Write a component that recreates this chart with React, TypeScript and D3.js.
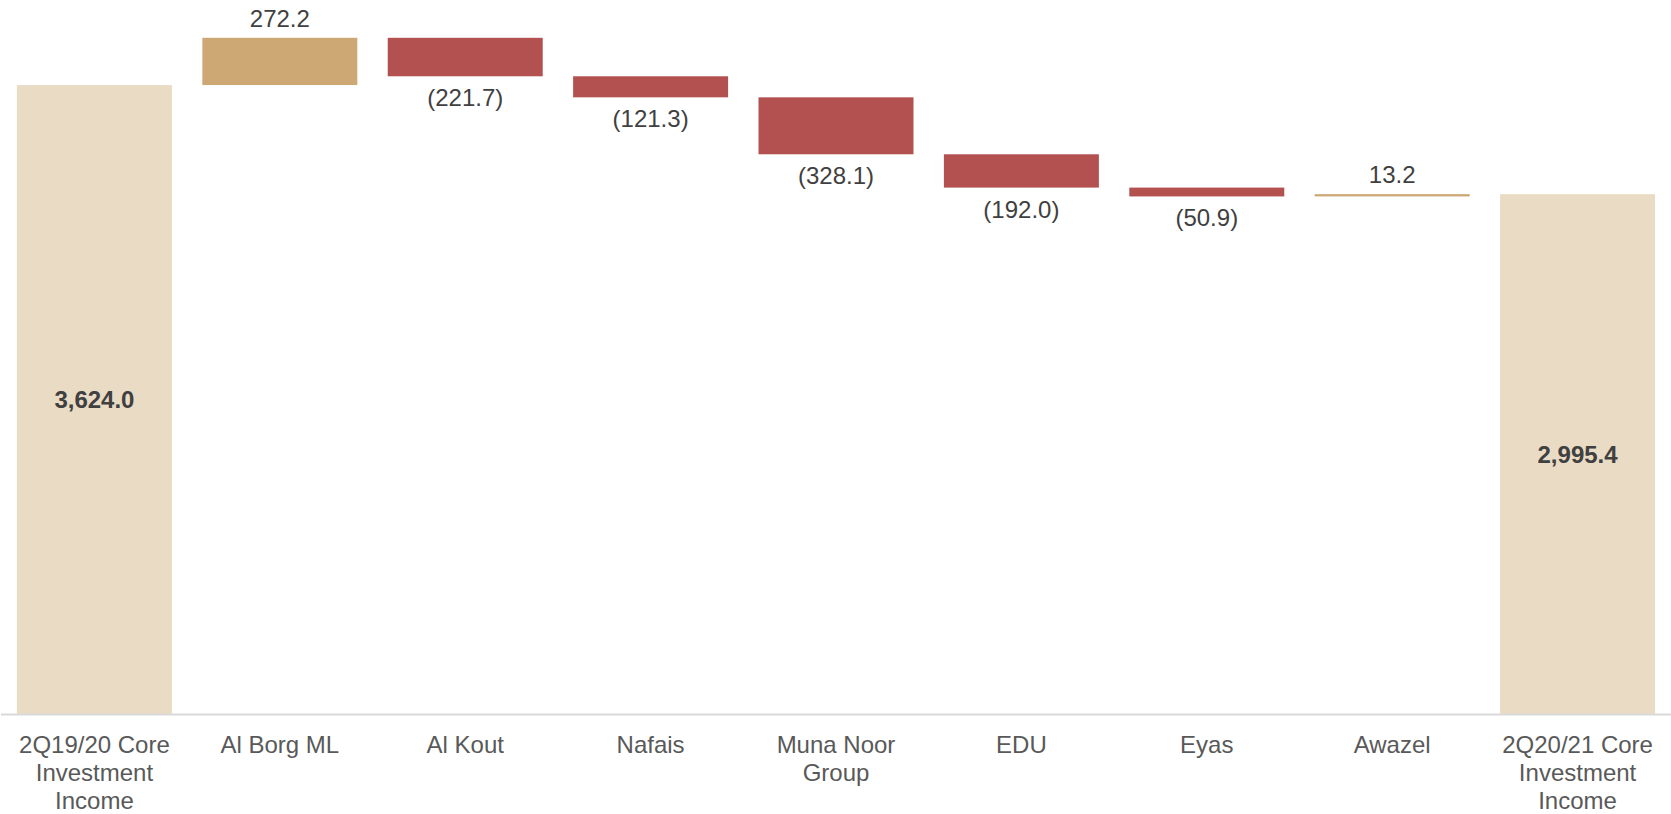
import React from "react";
import * as d3 from "d3";

const categories: string[][] = [
  ["2Q19/20 Core", "Investment", "Income"],
  ["Al Borg ML"],
  ["Al Kout"],
  ["Nafais"],
  ["Muna Noor", "Group"],
  ["EDU"],
  ["Eyas"],
  ["Awazel"],
  ["2Q20/21 Core", "Investment", "Income"],
];
const kinds: string[] = ["total", "delta", "delta", "delta", "delta", "delta", "delta", "delta", "total"];
const values: number[] = [3624.0, 272.2, -221.7, -121.3, -328.1, -192.0, -50.9, 13.2, 2995.4];

const W = 1671;
const H = 814;
const AXIS_Y = 714;
const FONT = "'Liberation Sans', Arial, Helvetica, sans-serif";
const COLORS = { total: "#EADBC5", pos: "#CEA874", neg: "#B35050" };

const fmt = d3.format(",.1f");
const label = (v: number) => (v < 0 ? `(${fmt(-v)})` : fmt(v));

export default function App() {
  const x = d3
    .scaleBand<number>()
    .domain(values.map((_, i) => i))
    .range([1, W])
    .paddingInner(0.164)
    .paddingOuter(0.086);
  const y = d3.scaleLinear().domain([0, 4114]).range([AXIS_Y, 0]);

  let running = 0;
  const bars = values.map((v, i) => {
    let lo: number, hi: number;
    if (kinds[i] === "total") {
      lo = 0;
      hi = v;
      running = v;
    } else {
      lo = Math.min(running, running + v);
      hi = Math.max(running, running + v);
      running = running + v;
    }
    const fill = kinds[i] === "total" ? COLORS.total : v >= 0 ? COLORS.pos : COLORS.neg;
    return { i, v, lo, hi, fill, kind: kinds[i] };
  });

  const bw = x.bandwidth();

  return (
    <svg
      width={W}
      height={H}
      style={{ position: "absolute", left: 0, top: 0, background: "#fff" }}
      fontFamily={FONT}
    >
      {bars.map((b) => {
        const x0 = x(b.i)!;
        const yTop = y(b.hi);
        const yBot = y(b.lo);
        return (
          <rect key={"r" + b.i} x={x0} y={yTop} width={bw} height={Math.max(1, yBot - yTop)} fill={b.fill} />
        );
      })}
      <line x1={1} x2={W} y1={AXIS_Y + 0.5} y2={AXIS_Y + 0.5} stroke="#D9D9D9" strokeWidth={2} />
      {bars.map((b) => {
        const cx = x(b.i)! + bw / 2;
        const yTop = y(b.hi);
        const yBot = y(b.lo);
        if (b.kind === "total") {
          const mid = (yTop + yBot) / 2;
          return (
            <text key={"t" + b.i} x={cx} y={mid + 8.5} textAnchor="middle" fontSize={24} fontWeight="bold" fill="#404040">
              {label(b.v)}
            </text>
          );
        }
        if (b.v >= 0) {
          return (
            <text key={"t" + b.i} x={cx} y={yTop - 11} textAnchor="middle" fontSize={24} fill="#404040">
              {label(b.v)}
            </text>
          );
        }
        return (
          <text key={"t" + b.i} x={cx} y={yBot + 30} textAnchor="middle" fontSize={24} fill="#404040">
            {label(b.v)}
          </text>
        );
      })}
      {categories.map((lines, i) => {
        const cx = x(i)! + bw / 2;
        return (
          <text key={"c" + i} x={cx} y={AXIS_Y + 39} textAnchor="middle" fontSize={24} fill="#595959">
            {lines.map((ln, j) => (
              <tspan key={j} x={cx} dy={j === 0 ? 0 : 28}>
                {ln}
              </tspan>
            ))}
          </text>
        );
      })}
    </svg>
  );
}
